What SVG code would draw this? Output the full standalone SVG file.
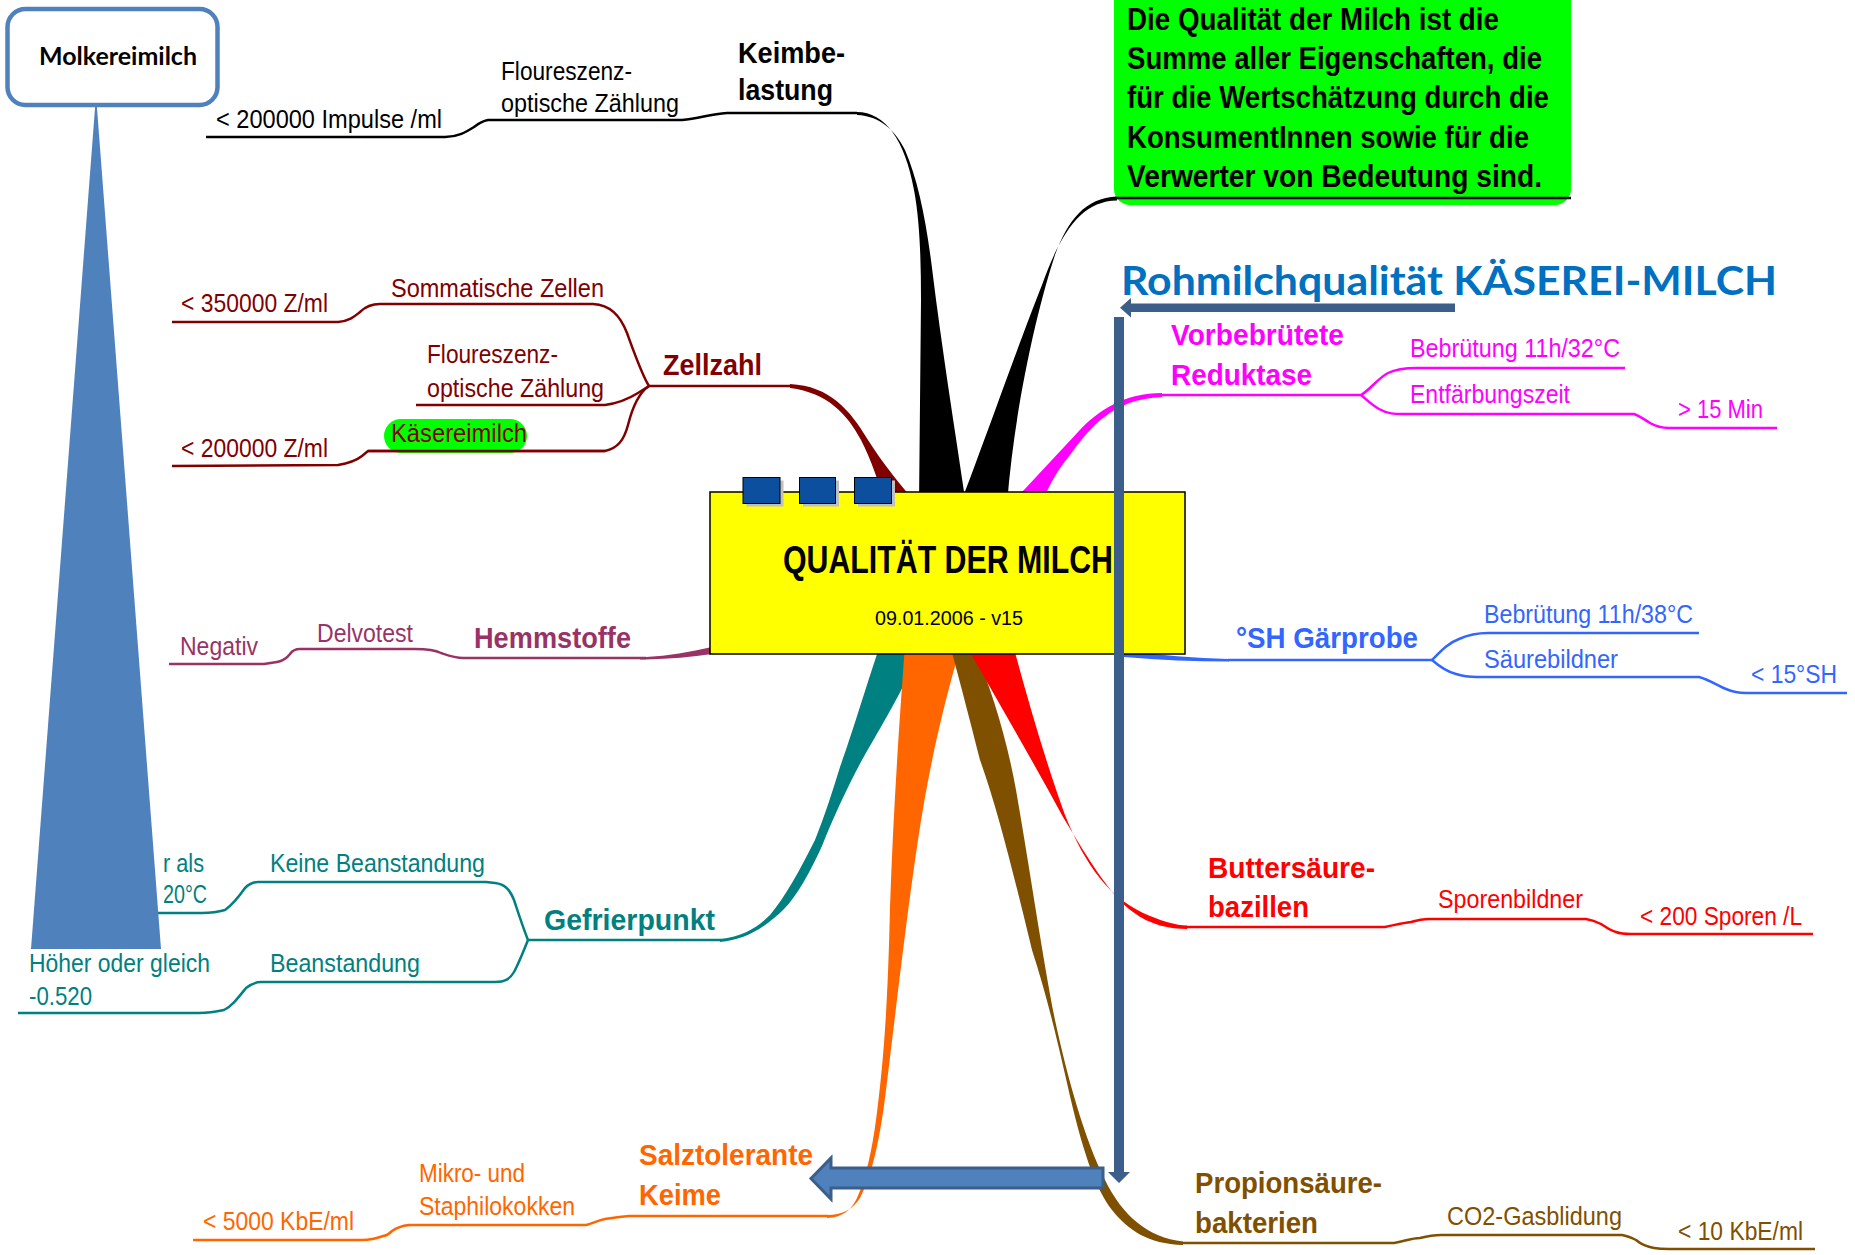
<svg xmlns="http://www.w3.org/2000/svg" width="1855" height="1255" viewBox="0 0 1855 1255">
<style>
text{font-family:"Liberation Sans",Arial,sans-serif;font-size:26px}
.b{font-weight:bold;font-size:30px}
.ln{fill:none;stroke-width:2.5;stroke-linejoin:round;stroke-linecap:butt}
.k{fill:#000}.dr{fill:#800000}.pl{fill:#993366}.tl{fill:#008080}.or{fill:#FF6600}.br{fill:#7F5000}.rd{fill:#FF0000}.bl{fill:#3366FF}.mg{fill:#FF00FF}
</style>
<rect width="1855" height="1255" fill="#fff"/>

<g id="connectors">
  <path class="ln" stroke="#000" d="M206,137 L445,137 C458,137 466,132 474,127 C479,123 482,121 488,120 L682,120 C700,119 708,114 727,113 L857,113"/>
  <path fill="#000" d="M857,112 C885,112 905,140 914,190 C920,222 921,262 921,300 L919,505 L966,505 C955,430 942,350 932,268 C926,220 918,180 905,150 C895,130 880,116 857,115 Z"/>
  <path fill="#000" d="M1117,196.5 C1085,198 1068,220 1055,255 C1040,300 1015,400 1007,505 L960,505 C985,440 1020,340 1042,285 C1060,235 1080,201 1117,200.5 Z"/>
  <path class="ln" stroke="#800000" d="M172,322 L338,322 C350,321 355,316 360,312 C366,306 372,304 380,304 L593,304 C610,305 620,315 627,333 C635,355 642,375 649,386 L790,386"/>
  <path class="ln" stroke="#800000" d="M416,405 L605,405 C620,403 630,398 638,393 L649,386"/>
  <path class="ln" stroke="#800000" d="M172,466 L338,465 C350,463 357,460 362,456 L368,451 L605,451 C618,448 624,440 628,425 C633,405 640,392 649,386"/>
  <path fill="#800000" d="M790,384 C830,386 850,410 868,440 C882,462 900,485 918,505 L885,505 C879,482 871,460 861,440 C847,414 828,393 790,388 Z"/>
  <path fill="#FF00FF" d="M1162,393 C1125,393 1098,410 1078,432 L1010,505 L1041,505 C1050,482 1060,467 1070,455 C1090,428 1112,399 1162,397 Z"/>
  <path class="ln" stroke="#FF00FF" d="M1160,395 L1361,395 C1370,390 1378,378 1388,373 C1396,369 1405,368 1417,368 L1625,368"/>
  <path class="ln" stroke="#FF00FF" d="M1361,395 C1367,400 1372,405 1379,409 C1388,414 1395,414 1402,414 L1634,414 C1640,416 1645,420 1650,423 C1657,427 1663,428 1669,428 L1777,428"/>
  <path fill="#993366" d="M712,647 C690,652 668,656 646,657 L640,657 L640,659.5 L646,659.5 C670,659 692,657 712,654 Z"/>
  <path class="ln" stroke="#993366" d="M646,658 L463,658 C455,658 447,655 441,653 C435,650 428,649 415,649 L300,649 C295,649 292,651 290,654 C287,658 283,661 277,662 L264,664 L169,664"/>
  <path fill="#3366FF" d="M1124,651 C1160,655 1195,658 1229,659 L1229,661.5 C1195,661.5 1160,660 1124,657 Z"/>
  <path class="ln" stroke="#3366FF" d="M1228,660 L1432,660 C1440,652 1448,643 1459,639 C1470,634 1478,633 1488,633 L1699,633"/>
  <path class="ln" stroke="#3366FF" d="M1432,660 C1440,667 1448,672 1456,674 C1465,677 1470,677 1477,677 L1699,677 C1710,680 1718,686 1726,689 C1733,692 1740,693 1746,693 L1847,693"/>
  <path fill="#008080" d="M880,645 L911,645 L906,680 C897,700 878,732 862,760 C847,788 833,818 822,846 C810,872 797,896 784,909 C767,926 746,940 720,942 L720,939 C745,937 760,925 770,915 C785,897 800,870 815,840 C825,815 833,790 840,767 C850,740 865,690 880,645 Z"/>
  <path class="ln" stroke="#008080" d="M721,940 L528,940 C522,925 518,912 514,900 C510,890 505,884 495,883 L486,882 L258,882 C252,882 248,885 245,888 C238,898 232,905 225,910 C218,912 210,913 202,913 L150,913"/>
  <path class="ln" stroke="#008080" d="M528,940 C522,955 518,965 514,972 C510,979 505,982 495,982 L261,982 C254,982 250,985 246,988 C238,998 232,1006 224,1010 C215,1012 208,1013 199,1013 L18,1013"/>
  <path fill="#FF6600" d="M905,645 L961,645 C945,700 930,760 918,840 C906,920 896,1010 886,1090 C880,1140 872,1175 860,1198 C852,1210 842,1215 827,1215 L827,1218 C842,1218 852,1209 857,1198 C866,1178 872,1150 876,1120 C884,1060 888,1000 890,907 C893,820 898,740 905,645 Z"/>
  <path class="ln" stroke="#FF6600" d="M828,1216 L629,1216 C618,1217 612,1218 605,1219 C595,1221 590,1225 584,1225 L409,1225 C400,1226 396,1228 392,1231 C388,1235 386,1236 383,1236 C375,1239 368,1240 362,1240 L193,1240"/>
  <path fill="#7F5000" d="M950,645 L973,645 C992,690 1007,740 1016,790 C1030,870 1043,960 1055,1020 C1068,1080 1085,1140 1105,1180 C1122,1215 1148,1238 1183,1241.5 L1183,1245 C1148,1244 1128,1230 1112,1210 C1095,1188 1082,1150 1067,1083 C1055,1030 1045,990 1032,950 C1015,880 998,810 980,760 C970,720 962,690 950,645 Z"/>
  <path class="ln" stroke="#7F5000" d="M1182,1243 L1394,1243 C1405,1241 1412,1238 1420,1238 C1428,1236 1433,1235 1441,1235 L1622,1235 C1628,1236 1632,1238 1636,1240 C1642,1245 1648,1247 1654,1248 C1660,1249 1664,1249 1669,1249 L1815,1249"/>
  <path fill="#FF0000" d="M966,645 L1013,645 C1028,700 1045,760 1065,815 C1085,865 1110,900 1150,916 C1165,922 1175,925 1187,925.5 L1187,929 C1170,929 1150,925 1133,912 C1110,895 1090,862 1063,817 C1035,765 1000,705 966,645 Z"/>
  <path class="ln" stroke="#FF0000" d="M1186,927 L1385,927 C1395,925 1402,923 1411,922 C1418,920 1423,919 1429,919 L1586,919 C1592,920 1597,922 1601,924 C1607,928 1611,931 1616,932 C1621,934 1626,934 1631,934 L1813,934"/>
</g>

<g id="molkereimilch">
  <polygon points="96,95 161,949 31,949" fill="#4F81BD"/>
  <rect x="7.5" y="9" width="210" height="96" rx="18" fill="#fff" stroke="#4F81BD" stroke-width="4.5"/>
  <text x="39" y="65" style="font-family:Lato,'Liberation Sans',sans-serif;font-weight:bold;font-size:24px" textLength="158" lengthAdjust="spacingAndGlyphs" fill="#000">Molkereimilch</text>
</g>

<g id="center">
  <rect x="710" y="492" width="475" height="162" fill="#FFFF00" stroke="#000" stroke-width="1.5"/>
  <rect x="746.5" y="480.5" width="37" height="26" fill="#BFBFBF"/>
  <rect x="803" y="480.5" width="36" height="26" fill="#BFBFBF"/>
  <rect x="858" y="480.5" width="37" height="26" fill="#BFBFBF"/>
  <rect x="743" y="477.5" width="37" height="26" fill="#0B4F9E" stroke="#000" stroke-width="1"/>
  <rect x="799.5" y="477.5" width="36" height="26" fill="#0B4F9E" stroke="#000" stroke-width="1"/>
  <rect x="854.5" y="477.5" width="37" height="26" fill="#0B4F9E" stroke="#000" stroke-width="1"/>
  <text x="783" y="573" style="font-weight:bold;font-size:38px" textLength="330" lengthAdjust="spacingAndGlyphs" fill="#000">QUALITÄT DER MILCH</text>
  <text x="875" y="625" style="font-size:20px" textLength="148" lengthAdjust="spacingAndGlyphs" fill="#000">09.01.2006 - v15</text>
</g>

<g id="definition">
  <rect x="1114" y="-20" width="457" height="225" rx="16" fill="#00FF00"/>
  <line x1="1115" y1="198" x2="1571" y2="198" stroke="#000" stroke-width="2.5"/>
  <g class="k">
    <text x="1127" y="30" style="font-weight:bold;font-size:31px" textLength="372" lengthAdjust="spacingAndGlyphs">Die Qualität der Milch ist die</text>
    <text x="1127" y="69" style="font-weight:bold;font-size:31px" textLength="415" lengthAdjust="spacingAndGlyphs">Summe aller Eigenschaften, die</text>
    <text x="1127" y="108" style="font-weight:bold;font-size:31px" textLength="422" lengthAdjust="spacingAndGlyphs">für die Wertschätzung durch die</text>
    <text x="1127" y="148" style="font-weight:bold;font-size:31px" textLength="402" lengthAdjust="spacingAndGlyphs">KonsumentInnen sowie für die</text>
    <text x="1127" y="187" style="font-weight:bold;font-size:31px" textLength="415" lengthAdjust="spacingAndGlyphs">Verwerter von Bedeutung sind.</text>
  </g>
</g>

<g id="keimbelastung" class="k">
  <text class="b" x="738" y="63" textLength="107" lengthAdjust="spacingAndGlyphs">Keimbe-</text>
  <text class="b" x="738" y="100" textLength="95" lengthAdjust="spacingAndGlyphs">lastung</text>
  <text x="501" y="80" textLength="131" lengthAdjust="spacingAndGlyphs">Floureszenz-</text>
  <text x="501" y="112" textLength="178" lengthAdjust="spacingAndGlyphs">optische Zählung</text>
  <text x="216" y="128" textLength="226" lengthAdjust="spacingAndGlyphs">&lt; 200000 Impulse /ml</text>
</g>

<g id="zellzahl" class="dr">
  <rect x="384" y="419" width="143" height="34" rx="17" fill="#00FF00"/>
  <path class="ln" stroke="#800000" d="M368,451 L605,451"/>
  <text class="b" x="663" y="375" textLength="99" lengthAdjust="spacingAndGlyphs">Zellzahl</text>
  <text x="391" y="297" textLength="213" lengthAdjust="spacingAndGlyphs">Sommatische Zellen</text>
  <text x="181" y="312" textLength="147" lengthAdjust="spacingAndGlyphs">&lt; 350000 Z/ml</text>
  <text x="427" y="363" textLength="131" lengthAdjust="spacingAndGlyphs">Floureszenz-</text>
  <text x="427" y="397" textLength="177" lengthAdjust="spacingAndGlyphs">optische Zählung</text>
  <text x="391" y="442" textLength="136" lengthAdjust="spacingAndGlyphs">Käsereimilch</text>
  <text x="181" y="457" textLength="147" lengthAdjust="spacingAndGlyphs">&lt; 200000 Z/ml</text>
</g>

<g id="hemmstoffe" class="pl">
  <text class="b" x="474" y="648" textLength="157" lengthAdjust="spacingAndGlyphs">Hemmstoffe</text>
  <text x="317" y="642" textLength="96" lengthAdjust="spacingAndGlyphs">Delvotest</text>
  <text x="180" y="655" textLength="78" lengthAdjust="spacingAndGlyphs">Negativ</text>
</g>

<g id="gefrierpunkt" class="tl">
  <text class="b" x="544" y="930" textLength="171" lengthAdjust="spacingAndGlyphs">Gefrierpunkt</text>
  <text x="270" y="872" textLength="215" lengthAdjust="spacingAndGlyphs">Keine Beanstandung</text>
  <text x="270" y="972" textLength="150" lengthAdjust="spacingAndGlyphs">Beanstandung</text>
  <text x="163" y="872" textLength="41" lengthAdjust="spacingAndGlyphs">r als</text>
  <text x="163" y="903" textLength="44" lengthAdjust="spacingAndGlyphs">20°C</text>
  <text x="29" y="972" textLength="181" lengthAdjust="spacingAndGlyphs">Höher oder gleich</text>
  <text x="29" y="1005" textLength="63" lengthAdjust="spacingAndGlyphs">-0.520</text>
</g>

<g id="salztolerante" class="or">
  <text class="b" x="639" y="1165" textLength="174" lengthAdjust="spacingAndGlyphs">Salztolerante</text>
  <text class="b" x="639" y="1205" textLength="82" lengthAdjust="spacingAndGlyphs">Keime</text>
  <text x="419" y="1182" textLength="106" lengthAdjust="spacingAndGlyphs">Mikro- und</text>
  <text x="419" y="1215" textLength="156" lengthAdjust="spacingAndGlyphs">Staphilokokken</text>
  <text x="203" y="1230" textLength="151" lengthAdjust="spacingAndGlyphs">&lt; 5000 KbE/ml</text>
</g>

<g id="propionsaeure" class="br">
  <text class="b" x="1195" y="1193" textLength="187" lengthAdjust="spacingAndGlyphs">Propionsäure-</text>
  <text class="b" x="1195" y="1233" textLength="123" lengthAdjust="spacingAndGlyphs">bakterien</text>
  <text x="1447" y="1225" textLength="175" lengthAdjust="spacingAndGlyphs">CO2-Gasblidung</text>
  <text x="1678" y="1240" textLength="125" lengthAdjust="spacingAndGlyphs">&lt; 10 KbE/ml</text>
</g>

<g id="buttersaeure" class="rd">
  <text class="b" x="1208" y="878" textLength="167" lengthAdjust="spacingAndGlyphs">Buttersäure-</text>
  <text class="b" x="1208" y="917" textLength="101" lengthAdjust="spacingAndGlyphs">bazillen</text>
  <text x="1438" y="908" textLength="145" lengthAdjust="spacingAndGlyphs">Sporenbildner</text>
  <text x="1640" y="925" textLength="162" lengthAdjust="spacingAndGlyphs">&lt; 200 Sporen /L</text>
</g>

<g id="gaerprobe" class="bl">
  <text class="b" x="1236" y="648" textLength="182" lengthAdjust="spacingAndGlyphs">°SH Gärprobe</text>
  <text x="1484" y="623" textLength="209" lengthAdjust="spacingAndGlyphs">Bebrütung 11h/38°C</text>
  <text x="1484" y="668" textLength="134" lengthAdjust="spacingAndGlyphs">Säurebildner</text>
  <text x="1751" y="683" textLength="86" lengthAdjust="spacingAndGlyphs">&lt; 15°SH</text>
</g>

<g id="reduktase" class="mg">
  <text class="b" x="1171" y="345" textLength="173" lengthAdjust="spacingAndGlyphs">Vorbebrütete</text>
  <text class="b" x="1171" y="385" textLength="141" lengthAdjust="spacingAndGlyphs">Reduktase</text>
  <text x="1410" y="357" textLength="210" lengthAdjust="spacingAndGlyphs">Bebrütung 11h/32°C</text>
  <text x="1410" y="403" textLength="160" lengthAdjust="spacingAndGlyphs">Entfärbungszeit</text>
  <text x="1678" y="418" textLength="85" lengthAdjust="spacingAndGlyphs">&gt; 15 Min</text>
</g>

<g id="rohmilch">
  <text x="1121" y="295" style="font-family:Lato,'Liberation Sans',sans-serif;font-weight:bold;font-size:40px" textLength="656" lengthAdjust="spacingAndGlyphs" fill="#0070C0">Rohmilchqualität KÄSEREI-MILCH</text>
  <polygon points="1455,303.5 1131,303.5 1131,298 1120,307.75 1131,317.5 1131,312 1455,312" fill="#3B5E8A"/>
  <polygon points="1114,317 1124,317 1124,1172 1130,1172 1119,1183 1108,1172 1114,1172" fill="#3B5E8A"/>
  <polygon points="1103,1168 831,1168 831,1158 811,1178.5 831,1199 831,1188 1103,1188" fill="#4F81BD" stroke="#3B5E8A" stroke-width="3" stroke-linejoin="miter"/>
</g>
</svg>
